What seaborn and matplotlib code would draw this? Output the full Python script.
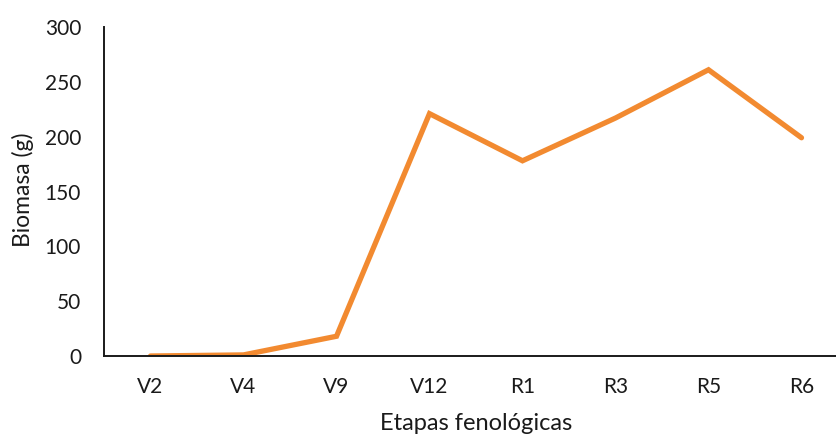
import matplotlib
matplotlib.use("Agg")
import matplotlib.pyplot as plt
import seaborn as sns
import pandas as pd

etapas = ["V2", "V4", "V9", "V12", "R1", "R3", "R5", "R6"]
biomasa = [0, 1, 18, 221, 178, 217, 261, 199]

sns.set_style("white")
plt.rcParams["font.family"] = ["Lato", "DejaVu Sans"]

df = pd.DataFrame({"Etapa": etapas, "Biomasa": biomasa})

fig = plt.figure(figsize=(8.37, 4.37), dpi=100)
ax = fig.add_axes([104 / 837, 1 - 356 / 437, 744 / 837, 329 / 437])

sns.lineplot(data=df, x="Etapa", y="Biomasa", sort=False, color="#F28A30",
             linewidth=3.8, ax=ax, solid_joinstyle="miter")

ax.set_xlim(-0.5, 7.5)
ax.set_ylim(0, 300)
ax.set_yticks(range(0, 301, 50))

for side in ("top", "right"):
    ax.spines[side].set_visible(False)
for side in ("left", "bottom"):
    ax.spines[side].set_color("#1a1a1a")
    ax.spines[side].set_linewidth(1.4)

ax.tick_params(axis="both", length=0, labelsize=15, colors="#1a1a1a")
ax.tick_params(axis="y", pad=16.5)
ax.tick_params(axis="x", pad=15)

ax.set_ylabel("Biomasa (g)", fontsize=16.5, color="#1a1a1a")
ax.yaxis.label.set_va("center")
ax.yaxis.set_label_coords(-0.109, 0.505)

ax.set_xlabel("Etapas fenológicas", fontsize=17, color="#1a1a1a")
ax.xaxis.set_label_coords(0.5, -0.172)

fig.savefig("out.png", dpi=100)
